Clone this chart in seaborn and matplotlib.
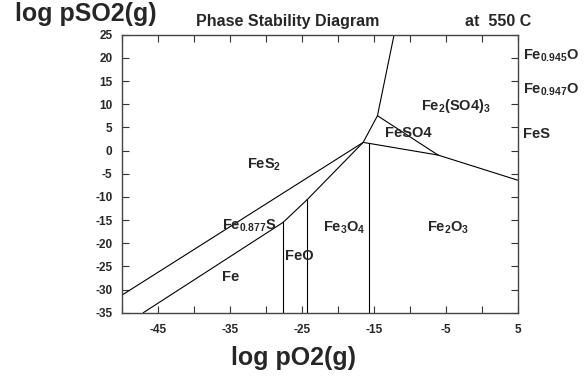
import matplotlib
matplotlib.use("Agg")
import matplotlib.pyplot as plt
import seaborn as sns
import pandas as pd

sns.set_style("ticks")
plt.rcParams['font.family'] = ['Liberation Sans', 'DejaVu Sans']
plt.rcParams['font.weight'] = 'bold'
plt.rcParams['axes.unicode_minus'] = False
plt.rcParams['mathtext.fontset'] = 'custom'
plt.rcParams['mathtext.rm'] = 'Liberation Sans:bold'
plt.rcParams['mathtext.it'] = 'Liberation Sans:bold'
plt.rcParams['mathtext.bf'] = 'Liberation Sans:bold'

# Phase boundary lines (log pO2, log pSO2)
fes2_fes_x = [-50, -16.48];        fes2_fes_y = [-31.2, 1.75]
fe_fes_x = [-47.04, -27.6];         fe_fes_y = [-35, -15.5]
feo_fes_x = [-27.6, -24.26];        feo_fes_y = [-15.5, -10.6]
fe3o4_fes_x = [-24.26, -16.48];     fe3o4_fes_y = [-10.6, 1.75]
fe_feo_x = [-27.6, -27.6];          fe_feo_y = [-35, -15.5]
feo_fe3o4_x = [-24.26, -24.26];     feo_fe3o4_y = [-35, -10.6]
fe3o4_fe2o3_x = [-15.65, -15.65];   fe3o4_fe2o3_y = [-35, 1.54]
fe3o4_feso4_x = [-16.48, -15.65];   fe3o4_feso4_y = [1.75, 1.54]
fe2o3_feso4_x = [-15.65, -6.07];    fe2o3_feso4_y = [1.54, -0.98]
fe2o3_fe2so43_x = [-6.07, 5];       fe2o3_fe2so43_y = [-0.98, -6.4]
feso4_fe2so43_x = [-14.49, -6.07];  feso4_fe2so43_y = [7.51, -0.98]
fes2_feso4_x = [-16.48, -14.49];    fes2_feso4_y = [1.75, 7.51]
fes2_fe2so43_x = [-14.49, -12.18];  fes2_fe2so43_y = [7.51, 25]

boundaries = [
    (fes2_fes_x, fes2_fes_y), (fe_fes_x, fe_fes_y), (feo_fes_x, feo_fes_y),
    (fe3o4_fes_x, fe3o4_fes_y), (fe_feo_x, fe_feo_y), (feo_fe3o4_x, feo_fe3o4_y),
    (fe3o4_fe2o3_x, fe3o4_fe2o3_y), (fe3o4_feso4_x, fe3o4_feso4_y),
    (fe2o3_feso4_x, fe2o3_feso4_y), (fe2o3_fe2so43_x, fe2o3_fe2so43_y),
    (feso4_fe2so43_x, feso4_fe2so43_y), (fes2_feso4_x, fes2_feso4_y),
    (fes2_fe2so43_x, fes2_fe2so43_y),
]

# Phase field labels
phase_labels = [r'FeS$_2$', r'Fe$_{0.877}$S', 'Fe', 'FeO', r'Fe$_3$O$_4$',
                r'Fe$_2$O$_3$', 'FeSO4', r'Fe$_2$(SO4)$_3$']
phase_x = [-32.6, -36.15, -36.15, -27.36, -22.13, -7.55, -13.47, -8.38]
phase_y = [-3.9, -17.1, -28.1, -23.6, -17.5, -17.5, 2.9, 8.8]

# Labels beyond the right edge
edge_labels = [r'Fe$_{0.945}$O', r'Fe$_{0.947}$O', 'FeS']
edge_x = [5.7, 5.7, 5.7]
edge_y = [19.6, 12.2, 2.8]

x_ticks = list(range(-50, 6, 5))
x_ticklabels = ['' if (t + 45) % 10 else str(t) for t in x_ticks]
y_ticks = list(range(-35, 26, 5))

fig = plt.figure(figsize=(5.88, 3.77), dpi=100)
ax = fig.add_axes([0.2075, 0.1706, 0.6729, 0.7374])

df = pd.DataFrame([(i, x, y) for i, (xs, ys) in enumerate(boundaries)
                   for x, y in zip(xs, ys)], columns=['seg', 'x', 'y'])
sns.lineplot(data=df, x='x', y='y', units='seg', estimator=None, sort=False,
             color='black', linewidth=0.8, ax=ax, legend=False)

ax.set_xlim(-50, 5)
ax.set_ylim(-35, 25)
ax.set_xticks(x_ticks)
ax.set_xticklabels(x_ticklabels)
ax.set_yticks(y_ticks)
ax.set_yticklabels([str(t) for t in y_ticks])
ax.set_xlabel('')
ax.set_ylabel('')
ax.tick_params(direction='in', top=True, right=True, length=5, width=0.8,
               labelsize=8.5, color='#333333')
ax.tick_params(axis='x', pad=8)
ax.tick_params(axis='y', pad=7)
for lab in ax.get_xticklabels() + ax.get_yticklabels():
    lab.set_fontweight('bold')
for s in ax.spines.values():
    s.set_visible(True)
    s.set_color('#444444')
    s.set_linewidth(1.0)

for t, x, y in zip(phase_labels, phase_x, phase_y):
    ax.text(x, y, t, fontsize=10.5, fontweight='bold', ha='left', va='baseline')
for t, x, y in zip(edge_labels, edge_x, edge_y):
    ax.text(x, y, t, fontsize=10.5, fontweight='bold', ha='left', va='baseline',
            clip_on=False)

fig.text(15 / 588, 1 - 21 / 377, 'log pSO2(g)', fontsize=18, fontweight='bold',
         ha='left', va='baseline')
fig.text(196 / 588, 1 - 26 / 377, 'Phase Stability Diagram', fontsize=11.5,
         fontweight='bold', ha='left', va='baseline')
fig.text(465 / 588, 1 - 26 / 377, 'at  550 C', fontsize=11.5,
         fontweight='bold', ha='left', va='baseline')
fig.text(231 / 588, 1 - 365 / 377, 'log pO2(g)', fontsize=18, fontweight='bold',
         ha='left', va='baseline')

fig.savefig('out.png', dpi=100)
